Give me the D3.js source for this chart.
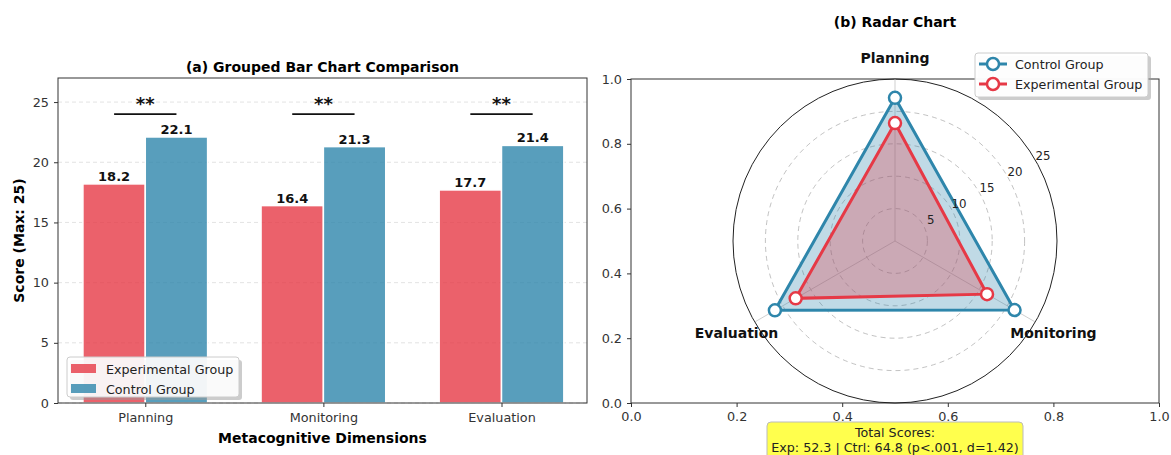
<!DOCTYPE html>
<html>
<head>
<meta charset="utf-8">
<script src="https://cdn.jsdelivr.net/npm/d3@7"></script>
<style>
  body { margin: 0; background: #fff; }
  svg { font-family: "DejaVu Sans", sans-serif; }
</style>
</head>
<body>
<svg id="chart" width="1171" height="455"></svg>
<script>
const categories = ['Planning', 'Monitoring', 'Evaluation']
const expScores = [18.2, 16.4, 17.7]
const ctrlScores = [22.1, 21.3, 21.4]
const barTicks = [0, 5, 10, 15, 20, 25]
const radarRings = [5, 10, 15, 20, 25]
const unitTicks = [0, 0.2, 0.4, 0.6, 0.8, 1.0]
const sigMarks = ['**', '**', '**']

const expColor = '#E63946',
    ctrlColor = '#2E86AB'
const tickSize = 12.8,
    boldSize = 14

const svg = d3.select('#chart')
svg.append('rect').attr('width', 1171).attr('height', 455).attr('fill', '#fff')

// ---------- (a) grouped bars ----------
const left = {x0: 58, x1: 587, y0: 78, y1: 403}
const x = d3.scaleLinear().domain([-0.49, 2.48]).range([left.x0, left.x1])
const y = d3.scaleLinear().domain([0, 27]).range([left.y1, left.y0])
const barW = 0.35

const ga = svg.append('g')

// grid
ga.selectAll('line.grid')
    .data(barTicks)
    .join('line')
    .attr('x1', left.x0).attr('x2', left.x1)
    .attr('y1', d => y(d)).attr('y2', d => y(d))
    .attr('stroke', '#b0b0b0')
    .attr('stroke-opacity', 0.35)
    .attr('stroke-dasharray', '4,3')

const drawBars = (vals, color, off) => {
    ga.selectAll(null)
        .data(vals)
        .join('rect')
        .attr('x', (d, i) => x(i + off))
        .attr('y', d => y(d))
        .attr('width', x(barW) - x(0))
        .attr('height', d => y(0) - y(d))
        .attr('fill', color)
        .attr('fill-opacity', 0.8)
        .attr('stroke', '#fff')
        .attr('stroke-width', 1.5)
    ga.selectAll(null)
        .data(vals)
        .join('text')
        .attr('x', (d, i) => x(i + off + barW / 2))
        .attr('y', d => y(d) - 3)
        .attr('text-anchor', 'middle')
        .attr('font-size', 13)
        .attr('font-weight', 'bold')
        .attr('fill', '#111')
        .text(d => d.toFixed(1))
}
drawBars(expScores, expColor, -barW)
drawBars(ctrlScores, ctrlColor, 0)

// significance
ga.selectAll(null)
    .data(sigMarks)
    .join('line')
    .attr('x1', (d, i) => x(i - barW / 2))
    .attr('x2', (d, i) => x(i + barW / 2))
    .attr('y1', y(24)).attr('y2', y(24))
    .attr('stroke', '#111')
    .attr('stroke-width', 1.8)
ga.selectAll(null)
    .data(sigMarks)
    .join('text')
    .attr('x', (d, i) => x(i))
    .attr('y', y(24.35))
    .attr('text-anchor', 'middle')
    .attr('font-size', 18)
    .attr('font-weight', 'bold')
    .attr('fill', '#111')
    .text(d => d)

// axes
const yAxisA = ga.append('g')
    .attr('transform', `translate(${left.x0},0)`)
    .call(d3.axisLeft(y).tickValues(barTicks).tickSize(4).tickPadding(5))
const xAxisA = ga.append('g')
    .attr('transform', `translate(0,${left.y1})`)
    .call(d3.axisBottom(x).tickValues([0, 1, 2]).tickFormat(i => categories[i]).tickSize(4).tickPadding(6))
;[yAxisA, xAxisA].forEach(a => {
    a.select('.domain').remove()
    a.selectAll('line').attr('stroke', '#333')
    a.selectAll('text').attr('font-size', tickSize).attr('fill', '#333').attr('font-family', 'DejaVu Sans')
})
ga.append('rect')
    .attr('x', left.x0).attr('y', left.y0)
    .attr('width', left.x1 - left.x0).attr('height', left.y1 - left.y0)
    .attr('fill', 'none').attr('stroke', '#333').attr('stroke-width', 1)

ga.append('text')
    .attr('x', (left.x0 + left.x1) / 2).attr('y', 72)
    .attr('text-anchor', 'middle').attr('font-size', boldSize).attr('font-weight', 'bold')
    .text('(a) Grouped Bar Chart Comparison')
ga.append('text')
    .attr('x', (left.x0 + left.x1) / 2).attr('y', 443)
    .attr('text-anchor', 'middle').attr('font-size', boldSize).attr('font-weight', 'bold')
    .text('Metacognitive Dimensions')
ga.append('text')
    .attr('transform', `translate(24,${(left.y0 + left.y1) / 2}) rotate(-90)`)
    .attr('text-anchor', 'middle').attr('font-size', boldSize).attr('font-weight', 'bold')
    .text('Score (Max: 25)')

// legend (a)
const legA = ga.append('g').attr('transform', 'translate(67,357)')
legA.append('rect').attr('x', 3).attr('y', 3).attr('width', 172).attr('height', 40)
    .attr('rx', 3).attr('fill', '#999').attr('fill-opacity', 0.5)
legA.append('rect').attr('width', 172).attr('height', 40).attr('rx', 3)
    .attr('fill', '#fff').attr('fill-opacity', 0.9).attr('stroke', '#ccc')
const legItemsA = [['Experimental Group', expColor], ['Control Group', ctrlColor]]
legItemsA.forEach(([name, c], i) => {
    legA.append('rect').attr('x', 4).attr('y', 7 + i * 20).attr('width', 25).attr('height', 9)
        .attr('fill', c).attr('fill-opacity', 0.8)
    legA.append('text').attr('x', 39).attr('y', 16.5 + i * 20)
        .attr('font-size', 12.7).attr('fill', '#222').text(name)
})

// ---------- (b) radar ----------
const right = {x0: 631, x1: 1159, y0: 79, y1: 403}
const ux = d3.scaleLinear().domain([0, 1]).range([right.x0, right.x1])
const uy = d3.scaleLinear().domain([0, 1]).range([right.y1, right.y0])
const gb = svg.append('g')

const xAxisB = gb.append('g').attr('transform', `translate(0,${right.y1})`)
    .call(d3.axisBottom(ux).tickValues(unitTicks).tickFormat(d3.format('.1f')).tickSize(4).tickPadding(5))
const yAxisB = gb.append('g').attr('transform', `translate(${right.x0},0)`)
    .call(d3.axisLeft(uy).tickValues(unitTicks).tickFormat(d3.format('.1f')).tickSize(4).tickPadding(5))
;[xAxisB, yAxisB].forEach(a => {
    a.select('.domain').remove()
    a.selectAll('line').attr('stroke', '#333')
    a.selectAll('text').attr('font-size', tickSize).attr('fill', '#333').attr('font-family', 'DejaVu Sans')
})
gb.append('rect')
    .attr('x', right.x0).attr('y', right.y0)
    .attr('width', right.x1 - right.x0).attr('height', right.y1 - right.y0)
    .attr('fill', 'none').attr('stroke', '#333')

gb.append('text')
    .attr('x', 895).attr('y', 27)
    .attr('text-anchor', 'middle').attr('font-size', boldSize).attr('font-weight', 'bold')
    .text('(b) Radar Chart')

const cx = 895, cy = 241
const r = d3.scaleLinear().domain([0, 25]).range([0, 162])
const angle = d3.scaleLinear().domain([0, categories.length]).range([0, 2 * Math.PI])
const pt = (v, i) => [cx + r(v) * Math.sin(angle(i)), cy - r(v) * Math.cos(angle(i))]

const polar = gb.append('g')
// rings
polar.selectAll(null)
    .data(radarRings.slice(0, -1))
    .join('circle')
    .attr('cx', cx).attr('cy', cy).attr('r', d => r(d))
    .attr('fill', 'none').attr('stroke', '#999').attr('stroke-opacity', 0.6)
    .attr('stroke-dasharray', '5,4')
polar.append('circle').attr('cx', cx).attr('cy', cy).attr('r', r(25))
    .attr('fill', 'none').attr('stroke', '#222').attr('stroke-width', 1)
// spokes
polar.selectAll(null)
    .data(categories)
    .join('line')
    .attr('x1', cx).attr('y1', cy)
    .attr('x2', (d, i) => pt(25, i)[0]).attr('y2', (d, i) => pt(25, i)[1])
    .attr('stroke', '#bbb').attr('stroke-opacity', 0.7)

const line = d3.line().curve(d3.curveLinearClosed)
const drawPoly = (vals, color) => {
    const pts = vals.map(pt)
    polar.append('path').attr('d', line(pts))
        .attr('fill', color).attr('fill-opacity', 0.3)
        .attr('stroke', color).attr('stroke-width', 3).attr('stroke-linejoin', 'miter')
    polar.selectAll(null)
        .data(pts)
        .join('circle')
        .attr('cx', d => d[0]).attr('cy', d => d[1]).attr('r', 6)
        .attr('fill', '#fff').attr('stroke', color).attr('stroke-width', 2.5)
}
drawPoly(ctrlScores, ctrlColor)
drawPoly(expScores, expColor)

// ring labels
polar.selectAll(null)
    .data(radarRings)
    .join('text')
    .attr('x', d => cx + (r(d) + 9) * Math.sin(Math.PI / 3))
    .attr('y', d => cy - (r(d) + 9) * Math.cos(Math.PI / 3) + 4)
    .attr('text-anchor', 'middle').attr('font-size', tickSize - 1).attr('fill', '#222')
    .text(d => d)

// category labels
polar.selectAll(null)
    .data(categories)
    .join('text')
    .attr('x', (d, i) => cx + (r(25) + 21) * Math.sin(angle(i)))
    .attr('y', (d, i) => cy - (r(25) + 21) * Math.cos(angle(i)) + 5)
    .attr('text-anchor', 'middle').attr('font-size', boldSize).attr('font-weight', 'bold').attr('fill', '#111')
    .text(d => d)

// legend (b)
const legB = gb.append('g').attr('transform', 'translate(975,53)')
legB.append('rect').attr('x', 3).attr('y', 3).attr('width', 173).attr('height', 44)
    .attr('rx', 3).attr('fill', '#999').attr('fill-opacity', 0.5)
legB.append('rect').attr('width', 173).attr('height', 44).attr('rx', 3)
    .attr('fill', '#fff').attr('fill-opacity', 0.95).attr('stroke', '#ccc')
const legItemsB = [['Control Group', ctrlColor], ['Experimental Group', expColor]]
legItemsB.forEach(([name, c], i) => {
    const yy = 11 + i * 20
    legB.append('line').attr('x1', 4).attr('x2', 32).attr('y1', yy).attr('y2', yy)
        .attr('stroke', c).attr('stroke-width', 3)
    legB.append('circle').attr('cx', 18).attr('cy', yy).attr('r', 6)
        .attr('fill', '#fff').attr('stroke', c).attr('stroke-width', 2.5)
    legB.append('text').attr('x', 40).attr('y', yy + 4.5)
        .attr('font-size', 12.7).attr('fill', '#222').text(name)
})

// total scores box
const tb = gb.append('g')
tb.append('rect').attr('x', 767).attr('y', 422).attr('width', 256).attr('height', 40).attr('rx', 4)
    .attr('fill', '#ffff4d').attr('stroke', '#bbb')
tb.append('text').attr('x', 895).attr('y', 437).attr('text-anchor', 'middle')
    .attr('font-size', 12.7).attr('fill', '#222').text('Total Scores:')
tb.append('text').attr('x', 895).attr('y', 452).attr('text-anchor', 'middle')
    .attr('font-size', 12.7).attr('fill', '#222').text('Exp: 52.3 | Ctrl: 64.8 (p<.001, d=1.42)')
</script>
</body>
</html>
